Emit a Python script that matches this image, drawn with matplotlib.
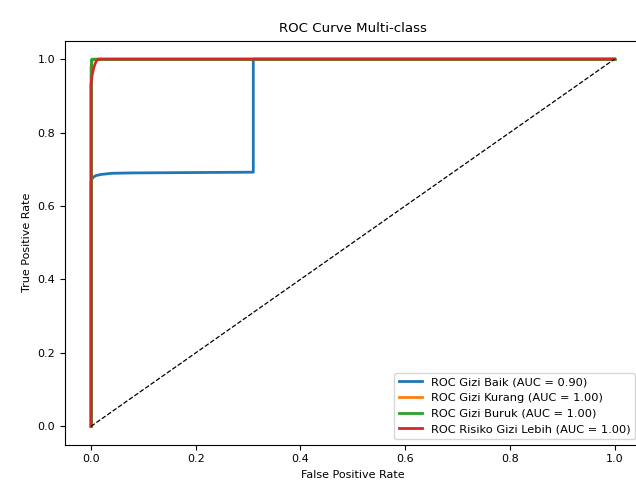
import matplotlib
matplotlib.use("Agg")
import matplotlib.pyplot as plt

labels = ["ROC Gizi Baik (AUC = 0.90)", "ROC Gizi Kurang (AUC = 1.00)",
          "ROC Gizi Buruk (AUC = 1.00)", "ROC Risiko Gizi Lebih (AUC = 1.00)"]
colors = ["#1f77b4", "#ff7f0e", "#2ca02c", "#d62728"]

fpr_baik = [0, 0, 0.002, 0.005, 0.01, 0.02, 0.04, 0.08, 0.31, 0.31, 1.0]
tpr_baik = [0, 0.665, 0.674, 0.679, 0.683, 0.686, 0.689, 0.69, 0.692, 1.0, 1.0]
fpr_kurang = [0, 0, 0.003, 1.0]
tpr_kurang = [0, 0.98, 1.0, 1.0]
fpr_buruk = [0, 0, 1.0]
tpr_buruk = [0, 1.0, 1.0]
fpr_lebih = [0, 0, 0.002, 0.005, 0.008, 0.011, 0.014, 1.0]
tpr_lebih = [0, 0.93, 0.955, 0.975, 0.988, 0.996, 1.0, 1.0]

fprs = [fpr_baik, fpr_kurang, fpr_buruk, fpr_lebih]
tprs = [tpr_baik, tpr_kurang, tpr_buruk, tpr_lebih]

plt.rcParams['font.size'] = 8
fig = plt.figure(figsize=(6.36, 4.84), dpi=100)
ax = fig.add_axes([0.1019, 0.0812, 0.9055, 0.8347])
for f, t, c, l in zip(fprs, tprs, colors, labels):
    ax.plot(f, t, color=c, lw=2, label=l)
ax.plot([0, 1], [0, 1], 'k--', lw=0.9)
ax.set_xlim(-0.05, 1.05)
ax.set_ylim(-0.05, 1.05)
ax.set_xlabel("False Positive Rate")
ax.set_ylabel("True Positive Rate")
ax.set_title("ROC Curve Multi-class", fontsize=9.6)
ax.legend(loc="lower right", fontsize=8.2)
fig.savefig("out.png", dpi=100)
